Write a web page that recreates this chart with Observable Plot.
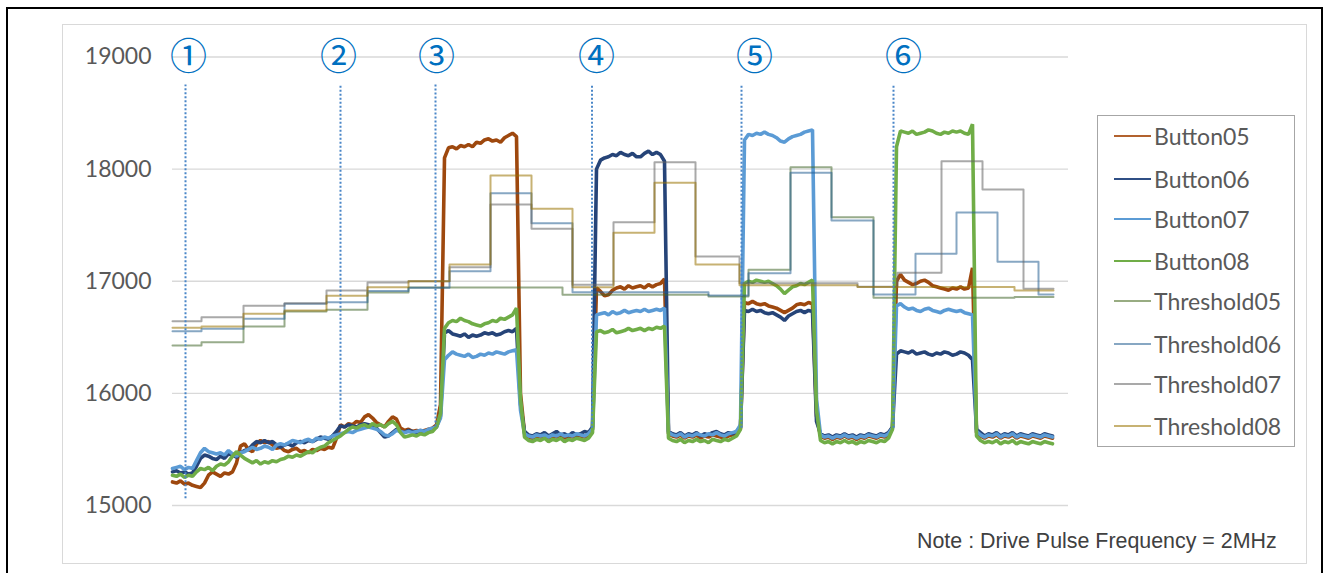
<!DOCTYPE html>
<html>
<head>
<meta charset="utf-8">
<script src="https://cdn.jsdelivr.net/npm/d3@7"></script>
<script src="https://cdn.jsdelivr.net/npm/@observablehq/plot@0.6"></script>
<style>
  html, body { margin: 0; padding: 0; background: #fff; }
  body { width: 1328px; height: 573px; overflow: hidden; position: relative; font-family: Lato, "Open Sans", sans-serif; }
  #outer { position: absolute; left: 6px; top: 7px; width: 1317px; height: 620px; border: 2px solid #000; box-sizing: border-box; }
  #frame { position: absolute; left: 62px; top: 24px; width: 1245px; height: 540px; border: 1px solid #d9d9d9; box-sizing: border-box; }
  #chart { position: absolute; left: 0; top: 0; }
  #legend { position: absolute; left: 1097px; top: 115px; width: 198px; height: 332px; border: 1px solid #a6a6a6; box-sizing: border-box; }
  .item { position: absolute; left: 0; height: 30px; line-height: 30px; font-size: 23px; color: #595959; white-space: nowrap; }
  .sw { position: absolute; left: 16px; top: 14px; width: 37px; height: 2px; }
  .lab { position: absolute; left: 56px; top: 0; }
  #note { position: absolute; left: 917px; top: 529px; font-family: "Liberation Sans", Arial, sans-serif; font-size: 21.4px; color: #404040; white-space: nowrap; }
  #warn { position: absolute; left: 200px; top: 540px; color: red; font-size: 14px; }
</style>
</head>
<body>
<div id="outer"></div>
<div id="frame"></div>
<div id="chart"></div>
<div id="legend"></div>
<div id="note">Note : Drive Pulse Frequency = 2MHz</div>
<div id="warn"></div>
<script>
// ---- data ----
const seriesNames = ["Button05", "Button06", "Button07", "Button08", "Threshold05", "Threshold06", "Threshold07", "Threshold08"];
const yTicks = [15000, 16000, 17000, 18000, 19000];
const sampleStep = 4;          // time units between button samples
const timeDomain = [0, 896];

// Button readings (one value per sample)
const button05 = [
  15210, 15200, 15220, 15190, 15200, 15180, 15170, 15160, 15200, 15270,
  15300, 15280, 15260, 15290, 15280, 15300, 15380, 15530, 15550, 15500,
  15480, 15550, 15580, 15560, 15570, 15540, 15510, 15520, 15490, 15480,
  15500, 15510, 15480, 15490, 15470, 15500, 15490, 15510, 15500, 15520,
  15510, 15600, 15720, 15700, 15730, 15720, 15750, 15740, 15790, 15810,
  15780, 15740, 15720, 15700, 15750, 15790, 15770, 15690, 15670, 15680,
  15660, 15670, 15660, 15670, 15680, 15690, 15720,
  15900,
  18100, 18190, 18200, 18180, 18210, 18200, 18220, 18200, 18240, 18230, 18260, 18270, 18250, 18260, 18240, 18280, 18300, 18320, 18290,
  16000,
  15650, 15610, 15600, 15620, 15610, 15630, 15600, 15620, 15610, 15630, 15600, 15620, 15610, 15630, 15620, 15610, 15630, 15680,
  16940, 16910, 16870, 16880, 16920, 16940, 16950, 16930, 16960, 16940, 16950, 16960, 16940, 16970, 16950, 16970, 16980, 17020,
  15640, 15620, 15610, 15630, 15600, 15620, 15610, 15630, 15600, 15620, 15610, 15630, 15620, 15610, 15600, 15620, 15630, 15640, 15690,
  16810, 16800, 16820, 16800, 16790, 16800, 16780, 16770, 16760, 16740, 16720, 16740, 16760, 16790, 16800, 16790, 16810, 16800,
  15800,
  15620, 15600, 15610, 15590, 15610, 15600, 15620, 15600, 15610, 15590, 15610, 15600, 15620, 15610, 15600, 15620, 15610, 15630, 15700,
  17000, 17060, 17010, 16990, 16970, 16980, 17000, 17010, 16990, 16960, 16950, 16940, 16930, 16920, 16940, 16930, 16950, 16930, 16940, 17120,
  15650, 15620, 15600, 15620, 15610, 15630, 15600, 15620, 15610, 15630, 15600, 15620, 15610, 15600, 15620, 15610, 15600, 15620, 15610, 15600
];
const button06 = [
  15300, 15310, 15290, 15300, 15280, 15290, 15350, 15420, 15450, 15440,
  15420, 15410, 15440, 15420, 15460, 15450, 15430, 15470, 15490, 15500,
  15540, 15570, 15560, 15580, 15560, 15570, 15540, 15520, 15540, 15550,
  15530, 15560, 15570, 15560, 15580, 15570, 15590, 15610, 15600, 15590,
  15620, 15660, 15710, 15700, 15720, 15710, 15700, 15720, 15730, 15720,
  15710, 15690, 15650, 15610, 15620, 15650, 15680, 15660, 15650, 15670,
  15660, 15650, 15670, 15660, 15670, 15680, 15700,
  15800,
  16540, 16560, 16530, 16520, 16510, 16530, 16500, 16520, 16510, 16520, 16540, 16530, 16540, 16520, 16530, 16550, 16560, 16550, 16580,
  15900,
  15660, 15630, 15620, 15640, 15630, 15650, 15620, 15640, 15660, 15630, 15640, 15620, 15650, 15630, 15640, 15660, 15650, 15700,
  18000, 18080, 18100, 18110, 18130, 18120, 18150, 18130, 18120, 18140, 18110, 18110, 18140, 18160, 18130, 18150, 18130, 18070,
  15660, 15640, 15630, 15650, 15620, 15640, 15630, 15650, 15620, 15640, 15630, 15650, 15660, 15640, 15630, 15650, 15640, 15660, 15700,
  16740, 16730, 16750, 16730, 16740, 16720, 16710, 16720, 16700, 16680, 16650, 16690, 16710, 16730, 16740, 16720, 16740, 16730,
  15750,
  15640, 15620, 15630, 15610, 15630, 15620, 15640, 15620, 15630, 15610, 15630, 15620, 15640, 15630, 15620, 15640, 15630, 15650, 15700,
  16350, 16380, 16370, 16360, 16380, 16350, 16360, 16370, 16350, 16340, 16360, 16350, 16370, 16360, 16340, 16350, 16370, 16360, 16340, 16300,
  15680, 15650, 15620, 15640, 15630, 15650, 15620, 15640, 15630, 15650, 15620, 15640, 15630, 15620, 15640, 15630, 15620, 15640, 15630, 15620
];
const button07 = [
  15330, 15340, 15350, 15320, 15340, 15330, 15400, 15470, 15510, 15480,
  15470, 15460, 15470, 15450, 15490, 15460, 15440, 15470, 15480, 15500,
  15520, 15500, 15510, 15530, 15520, 15500, 15540, 15550, 15540, 15560,
  15580, 15570, 15560, 15580, 15590, 15570, 15600, 15590, 15610, 15600,
  15620, 15630, 15640, 15650, 15660, 15650, 15670, 15680, 15690, 15700,
  15690, 15680, 15660, 15630, 15620, 15640, 15670, 15660, 15650, 15660,
  15650, 15660, 15670, 15660, 15680, 15690, 15700,
  15780,
  16300, 16340, 16370, 16350, 16340, 16330, 16350, 16320, 16330, 16350, 16340, 16360, 16350, 16370, 16360, 16350, 16370, 16380, 16390,
  15850,
  15640, 15620, 15610, 15630, 15620, 15630, 15610, 15630, 15620, 15640, 15620, 15630, 15620, 15640, 15630, 15620, 15640, 15680,
  16700, 16710, 16720, 16700, 16730, 16710, 16720, 16740, 16720, 16730, 16740, 16730, 16750, 16730, 16740, 16750, 16740, 16760,
  15650, 15630, 15620, 15640, 15610, 15630, 15620, 15640, 15630, 15620, 15640, 15630, 15650, 15630, 15620, 15640, 15650, 15660, 15720,
  18260, 18310, 18300, 18320, 18310, 18330, 18310, 18300, 18280, 18250, 18240, 18270, 18290, 18300, 18310, 18330, 18340, 18350,
  15950,
  15630, 15610, 15620, 15600, 15620, 15610, 15630, 15610, 15620, 15600, 15620, 15610, 15630, 15620, 15610, 15630, 15620, 15640, 15690,
  16780, 16800, 16770, 16750, 16760, 16740, 16730, 16750, 16760, 16740, 16730, 16720, 16740, 16750, 16740, 16730, 16740, 16720, 16710, 16700,
  15660, 15630, 15610, 15630, 15620, 15640, 15610, 15630, 15620, 15640, 15610, 15630, 15620, 15610, 15630, 15620, 15610, 15630, 15620, 15610
];
const button08 = [
  15270, 15260, 15280, 15250, 15270, 15260, 15300, 15330, 15320, 15340,
  15310, 15350, 15370, 15360, 15390, 15440, 15480, 15450, 15420, 15400,
  15380, 15400, 15370, 15390, 15380, 15400, 15390, 15410, 15420, 15440,
  15430, 15450, 15440, 15460, 15480, 15470, 15500, 15520, 15530, 15560,
  15580, 15600, 15620, 15650, 15680, 15700, 15690, 15710, 15720, 15700,
  15730, 15710, 15720, 15700, 15730, 15750, 15720, 15650, 15610, 15620,
  15630, 15620, 15640, 15630, 15650, 15660, 15700,
  15820,
  16580, 16630, 16650, 16640, 16670, 16650, 16640, 16620, 16610, 16600, 16620, 16630, 16650, 16640, 16670, 16660, 16680, 16700, 16760,
  15950,
  15610, 15580, 15570, 15590, 15580, 15600, 15570, 15590, 15580, 15600, 15570, 15590, 15580, 15600, 15590, 15580, 15600, 15650,
  16550, 16560, 16540, 16550, 16570, 16540, 16550, 16560, 16580, 16560, 16570, 16580, 16560, 16580, 16570, 16590, 16580, 16600,
  15600, 15580, 15570, 15590, 15560, 15580, 15570, 15590, 15570, 15580, 15560, 15590, 15580, 15570, 15590, 15580, 15600, 15620, 15680,
  16980, 17000, 16990, 17010, 17000, 16990, 17000, 16980, 16960, 16930, 16890, 16920, 16950, 16960, 16980, 16970, 16990, 17010,
  15850,
  15580, 15560, 15570, 15550, 15570, 15560, 15580, 15560, 15570, 15550, 15570, 15560, 15580, 15570, 15560, 15580, 15570, 15600, 15680,
  18200, 18340, 18330, 18320, 18340, 18310, 18320, 18330, 18350, 18340, 18320, 18310, 18330, 18320, 18340, 18330, 18340, 18320, 18310, 18400,
  15620, 15580, 15560, 15570, 15560, 15580, 15550, 15570, 15560, 15580, 15550, 15570, 15560, 15550, 15570, 15560, 15550, 15570, 15560, 15550
];

// Threshold step levels: [time, value] (value holds until next time)
const threshold05 = [[0,16427],[29,16456],[71,16596],[112,16730],[154,16745],[195,16900],[236,16944],[390,16879],[536,16864],[576,17102],[618,18017],[659,17571],[701,16852],[842,16860],[881,16860]];
const threshold06 = [[0,16555],[29,16576],[71,16665],[112,16799],[154,16813],[195,16913],[236,16942],[277,17090],[318,17785],[359,17518],[400,16902],[536,16873],[576,17072],[618,17967],[659,17542],[701,16882],[743,17245],[784,17613],[825,17174],[866,16882],[881,16882]];
const threshold07 = [[0,16644],[29,16679],[71,16781],[112,16804],[154,16918],[195,16989],[236,17000],[277,17125],[318,17685],[359,17468],[400,16968],[441,17527],[482,18062],[523,17221],[567,16982],[685,16952],[725,17075],[769,18071],[810,17818],[851,16933],[881,16933]];
const threshold08 = [[0,16585],[29,16596],[71,16710],[112,16739],[154,16870],[195,16947],[236,17000],[277,17149],[318,17943],[359,17646],[400,16947],[441,17432],[482,17878],[523,17149],[567,16965],[685,16948],[842,16918],[881,16918]];

// Event markers
const markerLabels = ["①", "②", "③", "④", "⑤", "⑥"];
const markerLabelX = [16, 166, 264, 424, 582, 731];
const markerLineX = [13, 168, 263, 419.5, 569, 721];
const markerLineBottom = [15060, 15760, 15700, 15690, 15690, 15690];
const markerLineTop = 18750;

// ---- styles ----
const buttonColors = ["#9E480E", "#264478", "#5B9BD5", "#70AD47"];
const thresholdColors = ["#43682B", "#255E91", "#636363", "#997300"];
const legendColors = ["#B2622E", "#2F4F85", "#5B9BD5", "#70AD47", "#98AC82", "#87A7C3", "#A9A9A9", "#C7B273"];

const buttons = [button05, button06, button07, button08];
const thresholds = [threshold05, threshold06, threshold07, threshold08];

const bad = buttons.map((b, i) => b.length !== 221 ? seriesNames[i] + ":" + b.length : null).filter(Boolean);
if (bad.length) document.getElementById("warn").textContent = "length mismatch " + bad.join(" ");

const marks = [
  Plot.gridY(yTicks, {stroke: "#d9d9d9", strokeOpacity: 1, strokeWidth: 1.3}),
  Plot.axisY(yTicks, {tickSize: 0, tickPadding: 21, tickFormat: d => String(d), fill: "#595959"})
];
buttons.forEach((b, k) => {
  marks.push(Plot.line(b, {x: (d, i) => i * sampleStep, y: d => d, stroke: buttonColors[k], strokeWidth: 3.6, strokeLinejoin: "miter"}));
});
thresholds.forEach((t, k) => {
  marks.push(Plot.line(t, {x: d => d[0], y: d => d[1], curve: "step-after", stroke: thresholdColors[k], strokeOpacity: 0.55, strokeWidth: 2}));
});
marks.push(Plot.ruleX(markerLineX, {x: d => d, y1: (d, i) => markerLineBottom[i], y2: markerLineTop, stroke: "#4A86C8", strokeWidth: 2, strokeDasharray: "2 2"}));
marks.push(Plot.text(markerLabels, {x: (d, i) => markerLabelX[i], y: 19000, text: d => d, fill: "#0070C0", fontSize: 37, fontFamily: "Noto Sans CJK JP", fontWeight: 400, dy: 1}));

const chart = Plot.plot({
  width: 1328,
  height: 573,
  marginLeft: 172,
  marginRight: 260,
  marginTop: 56.5,
  marginBottom: 68,
  x: {domain: timeDomain, axis: null},
  y: {domain: [15000, 19000], axis: null},
  style: {fontFamily: "Lato", fontSize: "23px", color: "#595959", background: "transparent", overflow: "visible"},
  marks
});
document.getElementById("chart").appendChild(chart);

// legend
const legend = document.getElementById("legend");
const legendCenters = [20, 63, 103, 145, 185, 228, 268, 310];
seriesNames.forEach((name, i) => {
  const item = document.createElement("div");
  item.className = "item";
  item.style.top = (legendCenters[i] - 15) + "px";
  const sw = document.createElement("div");
  sw.className = "sw";
  sw.style.background = legendColors[i];
  const lab = document.createElement("span");
  lab.className = "lab";
  lab.textContent = name;
  item.appendChild(sw);
  item.appendChild(lab);
  legend.appendChild(item);
});
</script>
</body>
</html>
